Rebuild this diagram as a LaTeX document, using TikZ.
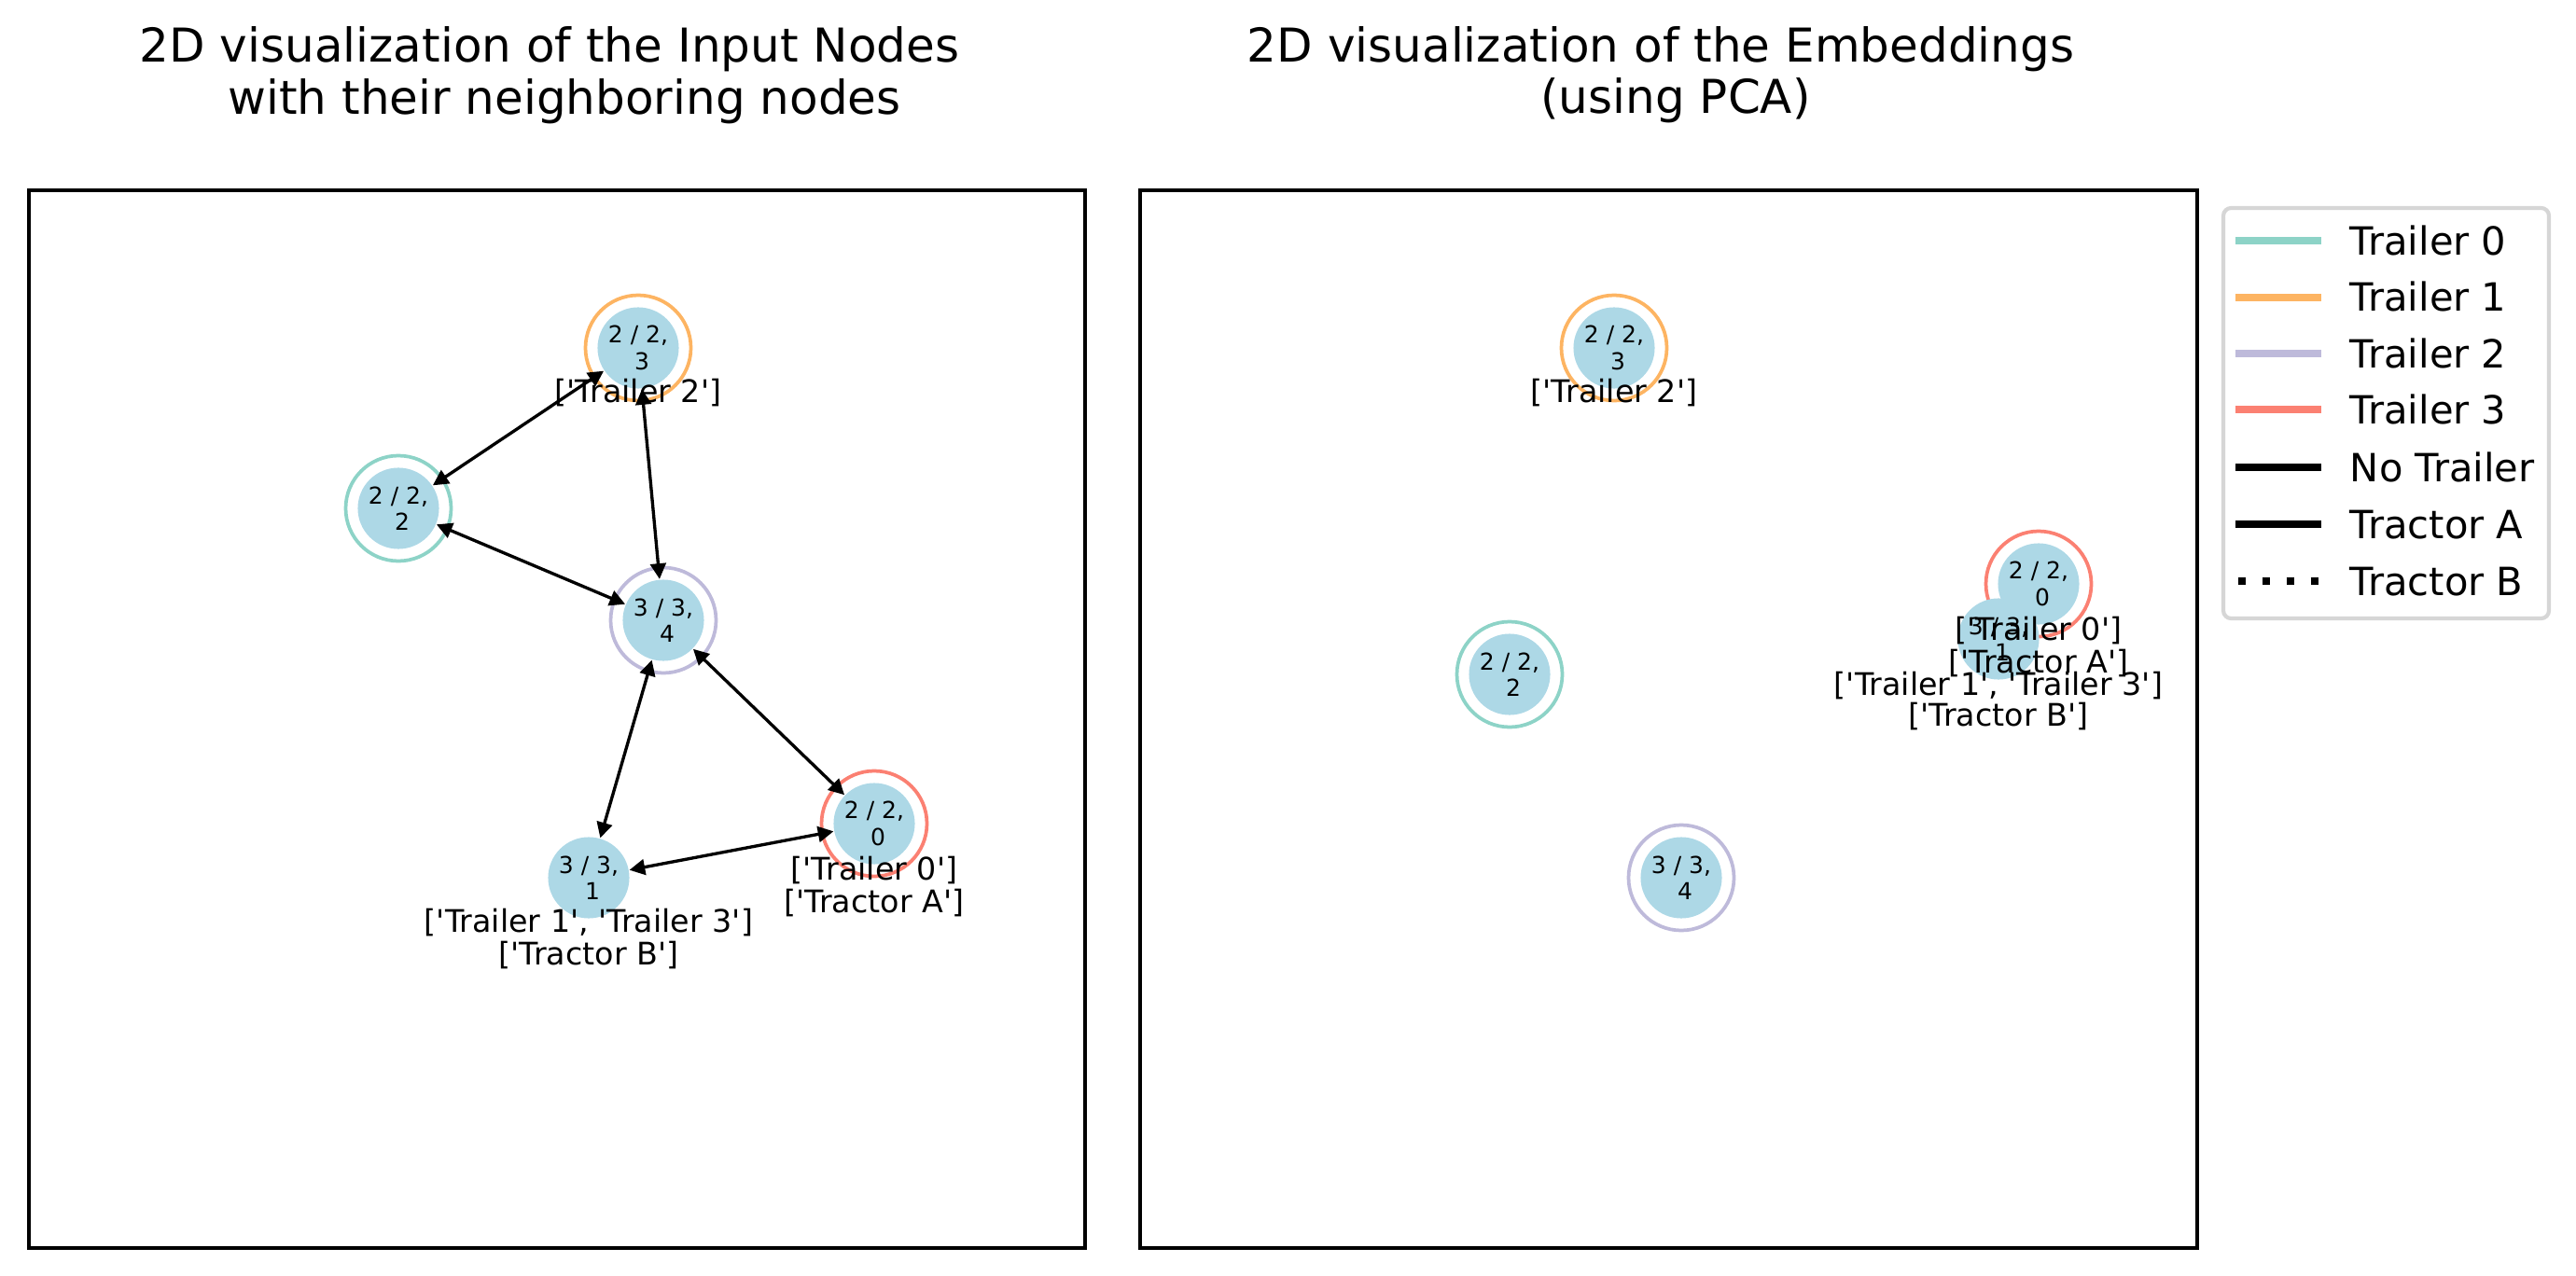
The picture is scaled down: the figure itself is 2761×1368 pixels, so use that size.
\documentclass[tikz,border=0pt]{standalone}
\usepackage{fontspec}
\setmainfont{DejaVu Sans}
\usetikzlibrary{arrows.meta}
\definecolor{tzero}{HTML}{8DD3C7}
\definecolor{tone}{HTML}{FDB462}
\definecolor{ttwo}{HTML}{BEBADA}
\definecolor{tthree}{HTML}{FB8072}
\definecolor{nodeblue}{HTML}{ADD8E6}
\definecolor{legframe}{HTML}{D6D6D6}
\newcommand{\sq}{\XeTeXglyph\XeTeXcharglyph"27\relax}
\begin{document}
\begin{tikzpicture}[x=0.24pt,y=-0.24pt,
  vnode/.style={circle,fill=nodeblue,minimum size=20.9pt,inner sep=0pt,
    font=\fontsize{6}{6.8}\selectfont,align=center},
  ring/.style={line width=0.9pt},
  lbl/.style={anchor=base,inner sep=0pt,font=\fontsize{8}{9.6}\selectfont},
  ttl/.style={anchor=base,inner sep=0pt,font=\fontsize{12}{14.4}\selectfont},
  legtxt/.style={anchor=base west,inner sep=0pt,font=\fontsize{10}{12}\selectfont},
  link/.style={line width=0.8pt,{Triangle[length=4pt,width=4pt]}-{Triangle[length=4pt,width=4pt]}},
  spine/.style={line width=0.8pt},
  legline/.style={line width=2pt}
]
\useasboundingbox (0,0) rectangle (2761,1368);

% titles
\node[ttl] (tl1) at (589,67) {2D visualization of the Input Nodes};
\node[ttl] (tl2) at (605,123) {with their neighboring nodes};
\node[ttl] (tr1) at (1780,67) {2D visualization of the Embeddings};
\node[ttl] (tr2) at (1796,122) {(using PCA)};

% axes frames
\draw[spine] (31,204) rectangle (1163,1338);
\draw[spine] (1222,204) rectangle (2355,1338);

% ---------- left panel ----------
\node[vnode] (L3) at (684,373) {2 / 2,\\\hspace*{0.318em}3};
\draw[ring,tone] (L3.center) circle[radius=13.56pt];
\node[vnode] (L2) at (427,545) {2 / 2,\\\hspace*{0.318em}2};
\draw[ring,tzero] (L2.center) circle[radius=13.56pt];
\node[vnode] (L4) at (711,665) {3 / 3,\\\hspace*{0.318em}4};
\draw[ring,ttwo] (L4.center) circle[radius=13.56pt];
\node[vnode] (L0) at (937,883) {2 / 2,\\\hspace*{0.318em}0};
\draw[ring,tthree] (L0.center) circle[radius=13.56pt];
\node[vnode] (L1) at (631,941) {3 / 3,\\\hspace*{0.318em}1};

\draw[link] (L3) -- (L2);
\draw[link] (L3) -- (L4);
\draw[link] (L2) -- (L4);
\draw[link] (L4) -- (L1);
\draw[link] (L4) -- (L0);
\draw[link] (L1) -- (L0);

\node[lbl] (L3a) at (684,432) {[\sq Trailer 2\sq]};
\node[lbl] (L0a) at (937,943) {[\sq Trailer 0\sq]};
\node[lbl] (L0b) at (937,978) {[\sq Tractor A\sq]};
\node[lbl] (L1a) at (631,999) {[\sq Trailer 1\sq, \sq Trailer 3\sq]};
\node[lbl] (L1b) at (631,1034) {[\sq Tractor B\sq]};

% ---------- right panel ----------
\node[vnode] (R3) at (1730,373) {2 / 2,\\\hspace*{0.318em}3};
\draw[ring,tone] (R3.center) circle[radius=13.56pt];
\node[vnode] (R2) at (1618,723) {2 / 2,\\\hspace*{0.318em}2};
\draw[ring,tzero] (R2.center) circle[radius=13.56pt];
\node[vnode] (R4) at (1802,941) {3 / 3,\\\hspace*{0.318em}4};
\draw[ring,ttwo] (R4.center) circle[radius=13.56pt];
\node[vnode] (R0) at (2185,626) {2 / 2,\\\hspace*{0.318em}0};
\draw[ring,tthree] (R0.center) circle[radius=13.56pt];
\node[vnode] (R1) at (2142,685) {3 / 3,\\\hspace*{0.318em}1};

\node[lbl] (R3a) at (1730,432) {[\sq Trailer 2\sq]};
\node[lbl] (R0a) at (2185,686) {[\sq Trailer 0\sq]};
\node[lbl] (R0b) at (2185,721) {[\sq Tractor A\sq]};
\node[lbl] (R1a) at (2142,745) {[\sq Trailer 1\sq, \sq Trailer 3\sq]};
\node[lbl] (R1b) at (2142,778) {[\sq Tractor B\sq]};

% ---------- legend ----------
\draw[legframe,line width=1pt,rounded corners=2pt,fill=white] (2383,223) rectangle (2732,663);
\draw[legline,tzero] (2396,258) -- (2488,258);
\draw[legline,tone] (2396,319) -- (2488,319);
\draw[legline,ttwo] (2396,379) -- (2488,379);
\draw[legline,tthree] (2396,439) -- (2488,439);
\draw[legline,black] (2396,501) -- (2488,501);
\draw[legline,black] (2396,562) -- (2488,562);
\draw[legline,black,dash pattern=on 2pt off 4.2pt] (2399,623) -- (2488,623);
\node[legtxt] (g0) at (2518,273) {Trailer 0};
\node[legtxt] (g1) at (2518,334) {Trailer 1};
\node[legtxt] (g2) at (2518,394) {Trailer 2};
\node[legtxt] (g3) at (2518,454) {Trailer 3};
\node[legtxt] (g4) at (2518,516) {No Trailer};
\node[legtxt] (g5) at (2518,577) {Tractor A};
\node[legtxt] (g6) at (2518,638) {Tractor B};
\end{tikzpicture}
\end{document}
